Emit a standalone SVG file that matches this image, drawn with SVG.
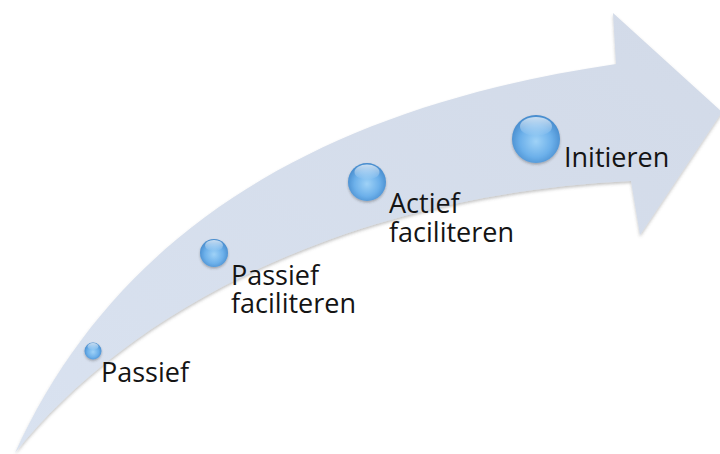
<svg xmlns="http://www.w3.org/2000/svg" width="720" height="454" viewBox="0 0 720 454">
  <defs>
    <linearGradient id="bandFill" x1="0" y1="1" x2="1" y2="0">
      <stop offset="0" stop-color="#d9e2f0"/>
      <stop offset="1" stop-color="#d2dae8"/>
    </linearGradient>
    <radialGradient id="ballFill" cx="0.5" cy="0.55" r="0.6">
      <stop offset="0" stop-color="#9fd2f7"/>
      <stop offset="0.55" stop-color="#6cb0ea"/>
      <stop offset="1" stop-color="#3d82c6"/>
    </radialGradient>
    <linearGradient id="ballShine" x1="0" y1="0" x2="0" y2="1">
      <stop offset="0" stop-color="#ffffff" stop-opacity="0.7"/>
      <stop offset="1" stop-color="#ffffff" stop-opacity="0"/>
    </linearGradient>
    <filter id="bandShadow" x="-5%" y="-5%" width="110%" height="115%">
      <feDropShadow dx="0" dy="2" stdDeviation="1.6" flood-color="#5a5a5a" flood-opacity="0.35"/>
    </filter>
    <filter id="ballShadow" x="-30%" y="-30%" width="160%" height="170%">
      <feDropShadow dx="0" dy="1.5" stdDeviation="1.2" flood-color="#333" flood-opacity="0.35"/>
    </filter>
  </defs>
  <style>
    .label { font-family: "Open Sans", "Liberation Sans", sans-serif; font-size: 27px; fill: #141414; }
    .ball { fill: url(#ballFill); filter: url(#ballShadow); }
    .shine { fill: url(#ballShine); }
  </style>

  <rect width="720" height="454" fill="#ffffff"/>

  <!-- sweeping arrow body with head -->
  <g id="arrow">
    <path d="M15,453 C115,233 317,108 616,64 L613,13 L722,112 L640,235 L631,181 C340,195 125,315 15,453 Z"
          fill="url(#bandFill)" filter="url(#bandShadow)"/>
  </g>

  <g id="connectors"/>

  <g id="node-passief">
    <circle class="ball" cx="93" cy="351" r="8.5"/>
    <ellipse class="shine" cx="93" cy="346.5" rx="5.5" ry="3.5"/>
    <text class="label" x="101" y="382">Passief</text>
  </g>

  <g id="node-passief-faciliteren">
    <circle class="ball" cx="214" cy="253" r="14"/>
    <ellipse class="shine" cx="214" cy="245.5" rx="9" ry="5.5"/>
    <text class="label" x="231" y="285">Passief</text>
    <text class="label" x="231" y="313">faciliteren</text>
  </g>

  <g id="node-actief-faciliteren">
    <circle class="ball" cx="367" cy="182" r="19"/>
    <ellipse class="shine" cx="367" cy="172" rx="12.5" ry="7.5"/>
    <text class="label" x="389" y="213">Actief</text>
    <text class="label" x="389" y="242">faciliteren</text>
  </g>

  <g id="node-initieren">
    <circle class="ball" cx="536" cy="139" r="24"/>
    <ellipse class="shine" cx="536" cy="126.5" rx="16" ry="9.5"/>
    <text class="label" x="564" y="167">Initieren</text>
  </g>
</svg>
